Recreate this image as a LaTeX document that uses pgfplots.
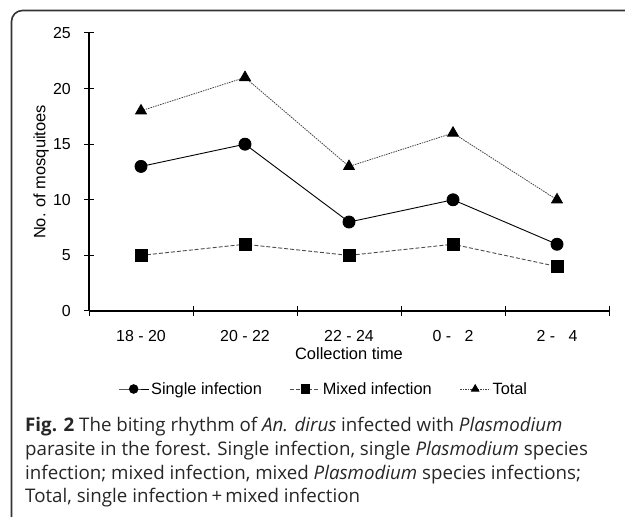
\documentclass[border=0pt]{standalone}
\usepackage{pgfplots}
\pgfplotsset{compat=1.18}
\usepackage{fontspec}
\setmainfont{Liberation Sans}
\newfontfamily\capfont{Open Sans}
\begin{document}
\begin{tikzpicture}[x=1bp,y=1bp]
\useasboundingbox (0,0) rectangle (625,521);
\draw[line width=1.6bp, black!80, rounded corners=11bp] (11.5,4) -- (11.5,510.5) -- (660,510.5);
\begin{axis}[
  at={(89bp,210bp)}, anchor=south west,
  scale only axis, width=520bp, height=278bp,
  xmin=0.5, xmax=5.5, ymin=0, ymax=25,
  axis x line=bottom, axis y line=left,
  axis line style={-, line width=1.1bp, black},
  xtick={1,...,5},
  xticklabels={18 - 20,20 - 22,22 - 24,0 -\ \ \ 2,2 -\ \ \ 4},
  minor xtick={0.5,1.5,...,5.5},
  ytick={0,5,...,25},
  tick align=center,
  major tick length=10bp, minor tick length=10bp,
  every tick/.style={black, line width=1bp},
  major x tick style={draw=none},
  /pgf/number format/assume math mode=true,
  tick label style={font=\fontsize{16}{18}\selectfont},
  xticklabel style={anchor=base, yshift=-26bp},
  yticklabel style={inner sep=0pt, xshift=-13bp},
  xlabel={Collection time},
  ylabel={No. of mosquitoes},
  label style={font=\fontsize{16.5}{19}\selectfont},
  xlabel style={at={(axis description cs:0.5,-0.176)}, anchor=base},
  ylabel style={at={(axis description cs:-0.092,0.5)}, anchor=center},
  legend columns=3,
  legend style={at={(axis description cs:0.0558,-0.2806)}, anchor=west, draw=none, fill=none,
    inner sep=0pt, font=\fontsize{16.4}{18}\selectfont,
    /tikz/every even column/.append style={column sep=26bp}},
  legend image code/.code={\draw[mark size=4.3bp, mark repeat=2, mark phase=2] plot coordinates {(0bp,0bp) (15bp,0bp) (30bp,0bp)};},
  clip=false,
]
\addplot[black, line width=0.9bp, mark=*, mark size=6bp, mark options={solid}]
  coordinates {(1,13) (2,15) (3,8) (4,10) (5,6)};
\addlegendentry{Single infection}
\addplot[black!70, line width=0.9bp, dash pattern=on 4bp off 2bp, mark=square*, mark size=6bp, mark options={solid, black}]
  coordinates {(1,5) (2,6) (3,5) (4,6) (5,4)};
\addlegendentry{Mixed infection}
\addplot[black!75, line width=0.8bp, dash pattern=on 1.5bp off 1bp, mark=triangle*, mark size=6.3bp, mark options={solid, black}]
  coordinates {(1,18) (2,21) (3,13) (4,16) (5,10)};
\addlegendentry{Total}
\end{axis}
\node[anchor=base west, inner sep=0pt, align=left, text=black!85,
  font=\capfont\fontsize{18.8}{23.8}\selectfont] at (25,18.1)
  {\textbf{Fig. 2} The biting rhythm of \textit{An. dirus} infected with \textit{Plasmodium}\\
   parasite in the forest. Single infection, single \textit{Plasmodium} species\\
   infection; mixed infection, mixed \textit{Plasmodium} species infections;\\
   Total, single infection\,+\,mixed infection};
\end{tikzpicture}
\end{document}
